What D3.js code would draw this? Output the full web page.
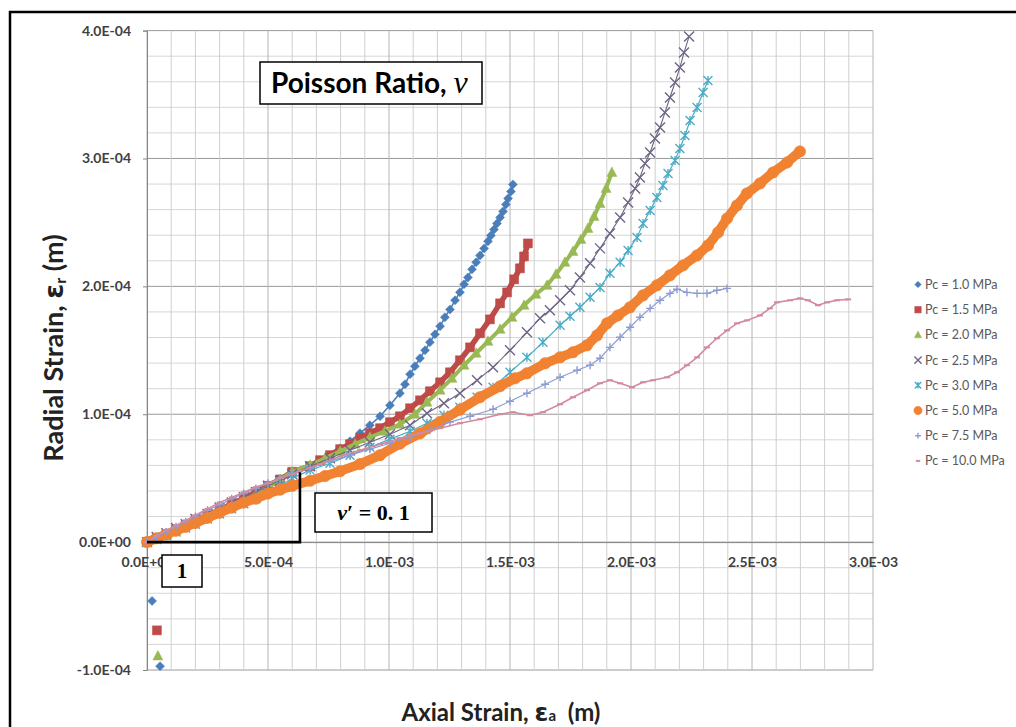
<!DOCTYPE html>
<html><head><meta charset="utf-8">
<script src="https://cdn.jsdelivr.net/npm/d3@7"></script>
<style>body{margin:0;background:#fff;} svg{display:block;}</style>
</head><body><svg id="c" width="1016" height="727"></svg>
<script>
// All strain values below are given in units of 1e-4 m
const UNIT = 1e-4;
const xTicks = [0, 5, 10, 15, 20, 25, 30];
const xTickLabels = ["0.0E+00","5.0E-04","1.0E-03","1.5E-03","2.0E-03","2.5E-03","3.0E-03"];
const yTicks = [-1, 0, 1, 2, 3, 4];
const yTickLabels = ["-1.0E-04","0.0E+00","1.0E-04","2.0E-04","3.0E-04","4.0E-04"];
const seriesNames = ["Pc = 1.0 MPa","Pc = 1.5 MPa","Pc = 2.0 MPa","Pc = 2.5 MPa","Pc = 3.0 MPa","Pc = 5.0 MPa","Pc = 7.5 MPa","Pc = 10.0 MPa"];

const pc1_0 = [[0.21,-0.46],[0.54,-0.97],
 [0,0],[0.4,0.03],[0.8,0.07],[1.2,0.10],[1.6,0.14],[2.0,0.17],[2.5,0.21],[3.0,0.26],[3.5,0.30],[4.0,0.35],[4.5,0.39],[5.0,0.44],[5.5,0.49],[6.0,0.54],
 [6.74,0.586],[7.15,0.633],[7.56,0.680],[7.98,0.734],[8.39,0.789],[8.80,0.852],[9.21,0.914],[9.63,0.984],[10.04,1.070],[10.45,1.164],[10.66,1.234],[10.87,1.313],[11.07,1.375],[11.28,1.438],[11.49,1.500],[11.69,1.563],[11.90,1.625],[12.11,1.688],[12.31,1.758],[12.52,1.820],[12.73,1.891],[12.93,1.953],[13.10,2.016],[13.26,2.070],[13.43,2.133],[13.60,2.188],[13.76,2.242],[13.93,2.297],[14.09,2.352],[14.21,2.398],[14.34,2.445],[14.46,2.492],[14.59,2.539],[14.71,2.586],[14.83,2.641],[14.92,2.688],[15.04,2.742],[15.12,2.797]];
const pc1_5 = [[0.41,-0.69],
 [0,0],[0.4,0.03],[0.8,0.06],[1.2,0.10],[1.6,0.13],[2.0,0.17],[2.5,0.21],[3.0,0.25],[3.5,0.30],[4.0,0.34],[4.5,0.39],[5.0,0.44],[5.5,0.49],[6.0,0.55],
 [6.74,0.594],[7.15,0.641],[7.56,0.680],[7.98,0.727],[8.39,0.766],[8.80,0.813],[9.21,0.852],[9.63,0.891],[10.04,0.938],[10.45,0.984],[10.87,1.047],[11.28,1.109],[11.69,1.180],[12.11,1.250],[12.52,1.328],[12.93,1.422],[13.35,1.523],[13.76,1.633],[14.17,1.742],[14.59,1.867],[14.88,1.953],[15.17,2.055],[15.41,2.141],[15.58,2.234],[15.74,2.336]];
const pc2_0 = [[0.45,-0.89],
 [0,0],[0.4,0.03],[0.8,0.06],[1.2,0.09],[1.6,0.13],[2.0,0.16],[2.5,0.20],[3.0,0.24],[3.5,0.29],[4.0,0.33],[4.5,0.38],[5.0,0.43],[5.5,0.49],[6.0,0.55],
 [6.74,0.602],[7.36,0.656],[7.98,0.711],[8.60,0.766],[9.21,0.820],[9.83,0.867],[10.45,0.922],[11.07,1.000],[11.57,1.094],[12.11,1.188],[12.60,1.281],[13.10,1.383],[13.60,1.477],[14.09,1.570],[14.59,1.664],[15.08,1.758],[15.58,1.852],[16.07,1.938],[16.53,2.008],[16.90,2.094],[17.27,2.188],[17.60,2.273],[17.93,2.367],[18.22,2.453],[18.47,2.547],[18.72,2.648],[18.97,2.766],[19.21,2.891]];
const pc2_5 = [[0,0],[0.4,0.04],[0.8,0.07],[1.2,0.11],[1.6,0.14],[2.0,0.18],[2.5,0.22],[3.0,0.27],[3.5,0.31],[4.0,0.35],[4.5,0.39],[5.0,0.44],[5.5,0.48],[6.0,0.53],
 [6.74,0.594],[7.56,0.656],[8.39,0.719],[9.21,0.781],[10.04,0.844],[10.87,0.914],[11.57,1.008],[12.27,1.086],[12.93,1.164],[13.64,1.266],[14.30,1.367],[15.00,1.500],[15.70,1.641],[16.24,1.750],[16.65,1.813],[17.07,1.891],[17.48,1.969],[17.89,2.070],[18.31,2.180],[18.72,2.297],[19.13,2.414],[19.55,2.539],[19.88,2.656],[20.17,2.766],[20.37,2.852],[20.58,2.961],[20.79,3.047],[20.99,3.156],[21.20,3.242],[21.40,3.359],[21.61,3.477],[21.82,3.594],[22.02,3.711],[22.19,3.828],[22.40,3.953]];
const pc3_0 = [[0,0],[0.4,0.02],[0.8,0.05],[1.2,0.08],[1.6,0.11],[2.0,0.14],[2.5,0.18],[3.0,0.22],[3.5,0.26],[4.0,0.30],[4.5,0.34],[5.0,0.39],[5.5,0.44],[6.0,0.50],
 [6.74,0.563],[7.56,0.617],[8.39,0.680],[9.21,0.742],[10.04,0.805],[10.87,0.867],[11.57,0.930],[12.27,0.992],[12.93,1.055],[13.64,1.133],[14.30,1.211],[15.00,1.328],[15.70,1.445],[16.36,1.563],[17.07,1.695],[17.48,1.766],[17.89,1.836],[18.31,1.914],[18.72,1.992],[19.13,2.102],[19.55,2.188],[19.88,2.281],[20.25,2.383],[20.50,2.492],[20.79,2.594],[21.07,2.695],[21.32,2.789],[21.53,2.883],[21.82,2.984],[22.02,3.078],[22.23,3.180],[22.44,3.297],[22.73,3.398],[22.98,3.516],[23.18,3.609]];
const pc5_0 = [[0,0],[0.4,0.03],[0.8,0.06],[1.2,0.09],[1.6,0.12],[2.0,0.15],[2.5,0.19],[3.0,0.23],[3.5,0.27],[4.0,0.31],[4.5,0.34],[5.0,0.38],[5.5,0.41],[6.0,0.44],
 [6.74,0.480],[7.36,0.517],[7.98,0.555],[8.80,0.610],[9.63,0.680],[10.45,0.770],[11.28,0.850],[12.11,0.940],[12.93,1.035],[13.76,1.133],[14.59,1.219],[15.21,1.281],[15.70,1.320],[16.45,1.398],[17.07,1.445],[17.60,1.484],[18.18,1.539],[18.60,1.617],[19.01,1.711],[19.46,1.773],[19.96,1.836],[20.50,1.930],[21.07,2.008],[21.61,2.086],[22.15,2.164],[22.73,2.242],[23.18,2.320],[23.60,2.422],[23.97,2.531],[24.38,2.633],[24.79,2.727],[25.33,2.805],[25.87,2.891],[26.45,2.969],[26.98,3.055]];
const pc7_5 = [[0,0],[0.4,0.04],[0.8,0.08],[1.2,0.12],[1.6,0.16],[2.0,0.20],[2.5,0.25],[3.0,0.29],[3.5,0.34],[4.0,0.38],[4.5,0.42],[5.0,0.46],[5.5,0.50],[6.0,0.54],
 [6.74,0.578],[7.56,0.633],[8.39,0.680],[9.21,0.727],[10.04,0.773],[10.87,0.820],[11.69,0.875],[12.52,0.938],[13.35,0.984],[14.30,1.039],[15.00,1.102],[15.70,1.164],[16.45,1.234],[17.07,1.289],[17.77,1.344],[18.31,1.383],[18.72,1.438],[19.13,1.523],[19.55,1.602],[19.96,1.680],[20.37,1.758],[20.79,1.828],[21.20,1.891],[21.61,1.945],[21.90,1.977],[22.31,1.953],[22.73,1.945],[23.14,1.945],[23.55,1.969],[23.97,1.984]];
const pc10_0 = [[0,0],[0.4,0.05],[0.8,0.09],[1.2,0.13],[1.6,0.17],[2.0,0.21],[2.5,0.26],[3.0,0.31],[3.5,0.35],[4.0,0.39],[4.5,0.43],[5.0,0.46],[5.5,0.50],[6.0,0.53],
 [6.32,0.555],[7.15,0.609],[7.98,0.672],[8.80,0.719],[9.63,0.766],[10.45,0.813],[11.28,0.852],[12.11,0.891],[12.93,0.930],[13.76,0.961],[14.59,1.000],[15.12,1.016],[15.83,0.992],[16.36,1.016],[17.07,1.078],[17.60,1.133],[18.18,1.188],[18.72,1.242],[19.13,1.266],[19.55,1.242],[20.04,1.211],[20.50,1.250],[20.91,1.266],[21.49,1.289],[21.90,1.328],[22.31,1.383],[22.73,1.445],[23.14,1.523],[23.55,1.594],[23.97,1.656],[24.38,1.711],[24.79,1.734],[25.33,1.773],[25.74,1.828],[26.03,1.875],[26.57,1.891],[26.98,1.906],[27.31,1.891],[27.73,1.852],[28.10,1.875],[28.51,1.891],[28.97,1.898]];

// annotation: slope triangle (units of 1e-4)
const slopeTriangle = [[0,0],[6.32,0],[6.32,0.547]];

const seriesData = [pc1_0, pc1_5, pc2_0, pc2_5, pc3_0, pc5_0, pc7_5, pc10_0];
const colors = ["#4A7EBB","#BE4B48","#98B954","#6F6585","#4BACC6","#F08232","#8C9BD3","#D28A9E"];
const markers = ["diamond","square","triangle","times","star","circle","plus","dash"];
const lineW = [1.6, 5.5, 4, 1.1, 1.2, 9.5, 1.2, 1.6];

const svg = d3.select("#c");
const FONT = "Lato, 'Open Sans', sans-serif";

const x = d3.scaleLinear().domain([0, 30*UNIT]).range([147, 873]);
const y = d3.scaleLinear().domain([-1*UNIT, 4*UNIT]).range([670, 30.6]);

// chart border
svg.append("rect").attr("x",10).attr("y",12).attr("width",1020).attr("height",730)
  .attr("fill","#fff").attr("stroke","#000").attr("stroke-width",2.5);

// gridlines
const grid = svg.append("g");
for (let i=-5;i<=20;i++){
  const v=i*0.2*UNIT; const major = (i%5===0);
  grid.append("line").attr("x1",147).attr("x2",873).attr("y1",y(v)).attr("y2",y(v))
    .attr("stroke", major?"#9a9a9a":"#d6d6d6").attr("stroke-width",1);
}
for (let i=0;i<=30;i++){
  const v=i*UNIT; const major=(i%5===0);
  grid.append("line").attr("y1",y(-UNIT)).attr("y2",y(4*UNIT)).attr("x1",x(v)).attr("x2",x(v))
    .attr("stroke", major?"#b4b4b4":"#cfcfcf").attr("stroke-width",1);
}

// axes
const yAxis = d3.axisLeft(y).tickValues(yTicks.map(d=>d*UNIT)).tickFormat((d,i)=>yTickLabels[i]).tickSize(4).tickPadding(12);
const gy = svg.append("g").attr("transform","translate(147,0)").call(yAxis);
gy.select(".domain").attr("stroke","#868686");
gy.selectAll(".tick line").attr("stroke","#868686");
gy.selectAll("text").attr("font-family",FONT).attr("font-weight","bold").attr("font-size",14).attr("fill","#404040");

const xAxis = d3.axisBottom(x).tickValues(xTicks.map(d=>d*UNIT)).tickFormat((d,i)=>xTickLabels[i]).tickSize(0).tickPadding(15);
const gx = svg.append("g").attr("transform",`translate(0,${y(0)})`).call(xAxis);
gx.select(".domain").attr("stroke","#868686");
gx.selectAll("text").attr("font-family",FONT).attr("font-weight","bold").attr("font-size",14).attr("fill","#404040");

// marker paths
function markerPath(type, s){
  const h=s/2;
  switch(type){
    case "diamond": return `M0,${-h}L${h},0L0,${h}L${-h},0Z`;
    case "square": return `M${-h},${-h}H${h}V${h}H${-h}Z`;
    case "triangle": return `M0,${-h*1.1}L${h},${h*0.8}L${-h},${h*0.8}Z`;
    case "times": return `M${-h},${-h}L${h},${h}M${-h},${h}L${h},${-h}`;
    case "star": return `M${-h},${-h}L${h},${h}M${-h},${h}L${h},${-h}M0,${-h}L0,${h}`;
    case "plus": return `M${-h},0L${h},0M0,${-h}L0,${h}`;
    case "dash": return `M${-h},0L${h},0`;
    case "circle": return d3.symbol(d3.symbolCircle, Math.PI*h*h)();
  }
}
const filled = {diamond:true,square:true,triangle:true,circle:true};
const msize = [9, 9, 10, 10, 9, 11.5, 8, 6];

function drawMarker(g, type, color, s, px, py){
  const p = g.append("path").attr("d", markerPath(type,s)).attr("transform",`translate(${px},${py})`);
  if (filled[type]) p.attr("fill",color).attr("stroke",color).attr("stroke-width",0.5);
  else p.attr("fill","none").attr("stroke",color).attr("stroke-width", type==="dash"?2:1.4);
}

const line = d3.line().x(d=>x(d[0]*UNIT)).y(d=>y(d[1]*UNIT));
const plot = svg.append("g");
seriesData.forEach((data,i)=>{
  const g = plot.append("g");
  const pos = data.filter(d=>d[1]>=0);
  g.append("path").attr("d", line(pos)).attr("fill","none").attr("stroke",colors[i])
    .attr("stroke-width",lineW[i]).attr("stroke-linejoin","round").attr("stroke-linecap","round");
  data.forEach(d=> drawMarker(g, markers[i], colors[i], msize[i], x(d[0]*UNIT), y(d[1]*UNIT)));
});

// slope triangle
svg.append("path").attr("d", d3.line().x(d=>x(d[0]*UNIT)).y(d=>y(d[1]*UNIT))(slopeTriangle))
  .attr("fill","none").attr("stroke","#000").attr("stroke-width",2.6);

// annotation boxes
const SERIF = "'Liberation Serif','DejaVu Serif',serif";
svg.append("rect").attr("x",260).attr("y",62).attr("width",222).attr("height",42).attr("fill","#fff").attr("stroke","#000").attr("stroke-width",1.5);
const tt = svg.append("text").attr("x",271).attr("y",93).attr("font-family",FONT).attr("font-weight","bold").attr("font-size",28).attr("fill","#000");
tt.append("tspan").text("Poisson Ratio, ");
tt.append("tspan").attr("font-family",SERIF).attr("font-style","italic").attr("font-weight","normal").attr("font-size",32).text("v");

svg.append("rect").attr("x",315).attr("y",493).attr("width",117).attr("height",39).attr("fill","#fff").attr("stroke","#000").attr("stroke-width",1.5);
const nt = svg.append("text").attr("x",373.5).attr("y",520).attr("text-anchor","middle").attr("font-family",SERIF).attr("font-weight","bold").attr("font-size",22).attr("fill","#000");
nt.append("tspan").attr("font-style","italic").text("v");
nt.append("tspan").text("\u2032 = 0. 1");

svg.append("rect").attr("x",162).attr("y",555).attr("width",40).attr("height",32).attr("fill","#fff").attr("stroke","#000").attr("stroke-width",1.5);
svg.append("text").attr("x",182).attr("y",578).attr("text-anchor","middle").attr("font-family",SERIF).attr("font-weight","bold").attr("font-size",21).text("1");

// axis titles
const yt = svg.append("text").attr("transform","translate(63,348) rotate(-90)").attr("text-anchor","middle")
  .attr("font-family",FONT).attr("font-weight","bold").attr("font-size",27).attr("fill","#222");
yt.append("tspan").text("Radial Strain, ");
yt.append("tspan").attr("font-family","'DejaVu Sans',sans-serif").attr("font-size",27).text("\u03B5");
yt.append("tspan").attr("font-size",16).attr("dy",3).text("r");
yt.append("tspan").attr("dy",-3).text(" (m)");

const xt = svg.append("text").attr("x",501).attr("y",721).attr("text-anchor","middle")
  .attr("font-family",FONT).attr("font-weight","bold").attr("font-size",24).attr("fill","#222");
xt.append("tspan").text("Axial Strain, ");
xt.append("tspan").attr("font-family","'DejaVu Sans',sans-serif").attr("font-size",25).text("\u03B5");
xt.append("tspan").attr("font-size",15).text("a");
xt.append("tspan").text("\u00A0 (m)");

// legend
const lg = svg.append("g");
seriesNames.forEach((name,i)=>{
  const ly = 284.5 + i*25.2;
  drawMarker(lg, markers[i], colors[i], msize[i]*0.72, 918, ly);
  lg.append("text").attr("x",925).attr("y",ly+4.5).attr("font-family",FONT).attr("font-size",12.5).attr("fill","#595959").text(name);
});
</script></body></html>
